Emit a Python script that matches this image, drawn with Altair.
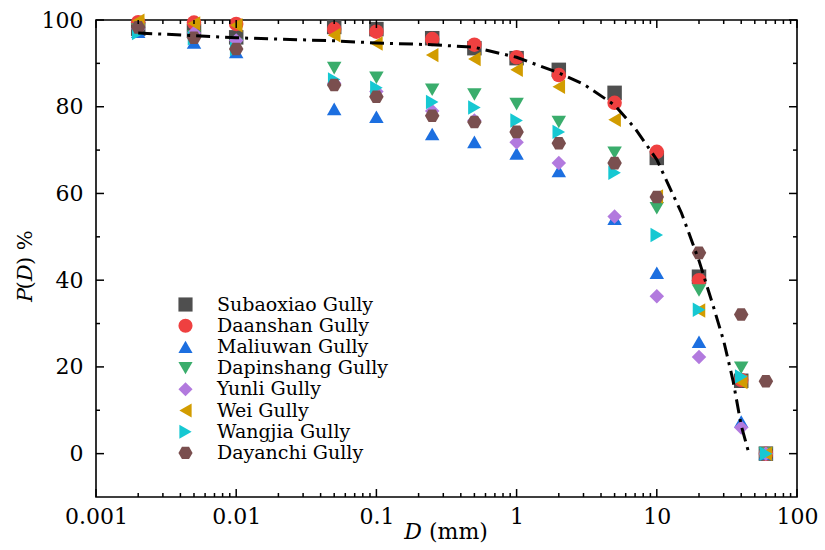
import altair as alt
import pandas as pd

D_values = [0.002, 0.005, 0.01, 0.05, 0.1, 0.25, 0.5, 1, 2, 5, 10, 20, 40, 60]
series_names = ["Subaoxiao Gully", "Daanshan Gully", "Maliuwan Gully", "Dapinshang Gully",
                "Yunli Gully", "Wei Gully", "Wangjia Gully", "Dayanchi Gully"]
subaoxiao = [98.0, 97.5, 96.0, 98.4, 97.9, 95.8, 93.5, 91.2, 88.5, 83.2, 68.2, 40.8, 16.8, 0]
daanshan = [99.5, 99.4, 99.1, 97.9, 97.3, 95.6, 94.3, 91.4, 87.3, 80.9, 69.6, 40.0, 17.0, 0]
maliuwan = [97.3, 94.8, 92.6, 79.5, 77.7, 73.7, 71.9, 69.2, 65.2, 54.2, 41.7, 25.8, 7.4, 0]
dapinshang = [97.8, 96.2, 94.3, 88.9, 86.7, 83.9, 82.8, 80.6, 76.5, 69.4, 56.6, 37.6, 19.8, 0]
yunli = [98.0, 97.0, 95.3, 85.4, 83.5, 79.0, 76.8, 71.8, 67.0, 54.7, 36.3, 22.3, 6.0, 0]
wei = [99.8, 99.2, 98.8, 96.5, 94.6, 91.9, 91.0, 88.5, 84.6, 77.0, 59.3, 33.0, 16.5, 0]
wangjia = [97.0, 95.8, 93.3, 86.3, 84.4, 81.1, 79.8, 76.8, 74.2, 64.8, 50.4, 33.2, 17.8, 0]
dayanchi = [98.3, 95.9, 93.3, 85.0, 82.3, 77.9, 76.5, 74.2, 71.6, 67.0, 59.2, 46.3, 32.1, 16.7]

fit_D = [0.002, 0.005, 0.01, 0.02, 0.05, 0.1, 0.25, 0.5, 1, 2, 3, 5, 7, 10, 15, 20, 25, 30, 35, 40, 45]
fit_P = [97.0, 96.4, 95.9, 95.6, 95.2, 94.7, 94.3, 93.7, 91.4, 87.8, 85.2, 80.4, 75.0, 67.8, 55.5,
         44.5, 34.5, 26.0, 16.8, 6.5, 0.5]

x_major = [0.001, 0.01, 0.1, 1, 10, 100]
x_minor = [m * 10 ** e for e in range(-3, 2) for m in range(2, 10)]
y_major = [0, 20, 40, 60, 80, 100]
y_minor = [10, 30, 50, 70, 90]

colors = ["#4f4f4f", "#ef4040", "#1c6fe0", "#3aad6c", "#b27ade", "#d29c00", "#16c8d2", "#7a4f4f"]
hexagon = "M-1,0L-0.5,-0.866L0.5,-0.866L1,0L0.5,0.866L-0.5,0.866Z"
shapes = ["square", "circle", "triangle-up", "triangle-down", "diamond", "triangle-left",
          "triangle-right", hexagon]

all_series = [subaoxiao, daanshan, maliuwan, dapinshang, yunli, wei, wangjia, dayanchi]
rows = []
for name, vals in zip(series_names, all_series):
    for d, p in zip(D_values, vals):
        rows.append({"D": d, "P": p, "Series": name})
points_df = pd.DataFrame(rows)
fit_df = pd.DataFrame({"D": fit_D, "P": fit_P})

FONT = "DejaVu Serif"
W, H = 701, 477
xscale = alt.Scale(type="log", domain=[0.001, 100], nice=False)
yscale = alt.Scale(domain=[-10, 100], nice=False, zero=False)

xax = alt.Axis(values=x_major, format="~g", ticks=False, grid=False, domain=False,
               title=None, labelFont=FONT, labelFontSize=22, labelColor="black",
               labelPadding=9, labelFlush=False)
yax = alt.Axis(values=y_major, ticks=False, grid=False, domain=False, title=None,
               labelFont=FONT, labelFontSize=22, labelColor="black",
               labelPadding=13, labelFlush=False)

legend = alt.Legend(orient="none", legendX=80, legendY=275, title=None, labelFont=FONT,
                    labelFontSize=19, labelColor="black", symbolSize=200, rowPadding=1.2,
                    labelOffset=22, symbolStrokeWidth=0, padding=0, labelLimit=400)

points = alt.Chart(points_df).mark_point(filled=True, opacity=1, size=210).encode(
    x=alt.X("D:Q", scale=xscale, axis=xax),
    y=alt.Y("P:Q", scale=yscale, axis=yax),
    color=alt.Color("Series:N", scale=alt.Scale(domain=series_names, range=colors), legend=legend),
    shape=alt.Shape("Series:N", scale=alt.Scale(domain=series_names, range=shapes), legend=legend),
)

fit_line = alt.Chart(fit_df).mark_line(color="black", strokeWidth=3,
                                       strokeDash=[14, 6, 3, 6]).encode(
    x=alt.X("D:Q", scale=xscale, axis=xax),
    y=alt.Y("P:Q", scale=yscale, axis=yax),
)


def xticks(values, y0, y1):
    return alt.Chart(pd.DataFrame({"D": values})).mark_rule(color="black", strokeWidth=1.5).encode(
        x=alt.X("D:Q", scale=xscale, axis=xax), y=alt.value(y0), y2=alt.value(y1))


def yticks(values, x0, x1):
    return alt.Chart(pd.DataFrame({"P": values})).mark_rule(color="black", strokeWidth=1.5).encode(
        y=alt.Y("P:Q", scale=yscale, axis=yax), x=alt.value(x0), x2=alt.value(x1))


tick_layers = [
    xticks(x_major, H, H - 8), xticks(x_minor, H, H - 4),
    xticks(x_major, 0, 8), xticks(x_minor, 0, 4),
    yticks(y_major, 0, 8), yticks(y_minor, 0, 4),
    yticks(y_major, W, W - 8), yticks(y_minor, W, W - 4),
]

# axis titles with mixed italic pieces
title_df = pd.DataFrame({"k": [0]})
xt_D = alt.Chart(title_df).mark_text(text="D", font=FONT, fontStyle="italic", fontSize=22,
                                     align="right", baseline="alphabetic", color="black").encode(
    x=alt.value(326), y=alt.value(519))
xt_mm = alt.Chart(title_df).mark_text(text="(mm)", font=FONT, fontSize=22, align="left",
                                      baseline="alphabetic", color="black").encode(
    x=alt.value(333), y=alt.value(519))

yt_x = -64
yt_P = alt.Chart(title_df).mark_text(text="P", font=FONT, fontStyle="italic", fontSize=21,
                                     align="left", baseline="alphabetic", angle=270,
                                     color="black").encode(x=alt.value(yt_x), y=alt.value(282))
yt_o = alt.Chart(title_df).mark_text(text="(", font=FONT, fontSize=21, align="left",
                                     baseline="alphabetic", angle=270,
                                     color="black").encode(x=alt.value(yt_x), y=alt.value(269.5))
yt_D = alt.Chart(title_df).mark_text(text="D", font=FONT, fontStyle="italic", fontSize=21,
                                     align="left", baseline="alphabetic", angle=270,
                                     color="black").encode(x=alt.value(yt_x), y=alt.value(261.3))
yt_c = alt.Chart(title_df).mark_text(text=") %", font=FONT, fontSize=21, align="left",
                                     baseline="alphabetic", angle=270,
                                     color="black").encode(x=alt.value(yt_x), y=alt.value(245))

chart = alt.layer(
    points, fit_line, *tick_layers, xt_D, xt_mm, yt_P, yt_o, yt_D, yt_c
).properties(
    width=W, height=H,
    background="white",
    autosize=alt.AutoSizeParams(type="none"),
    padding={"left": 96, "top": 20, "right": 28, "bottom": 53},
).configure_view(stroke="black", strokeWidth=1.6)

chart.save("out.html", embed_options={"renderer": "svg", "actions": False})
